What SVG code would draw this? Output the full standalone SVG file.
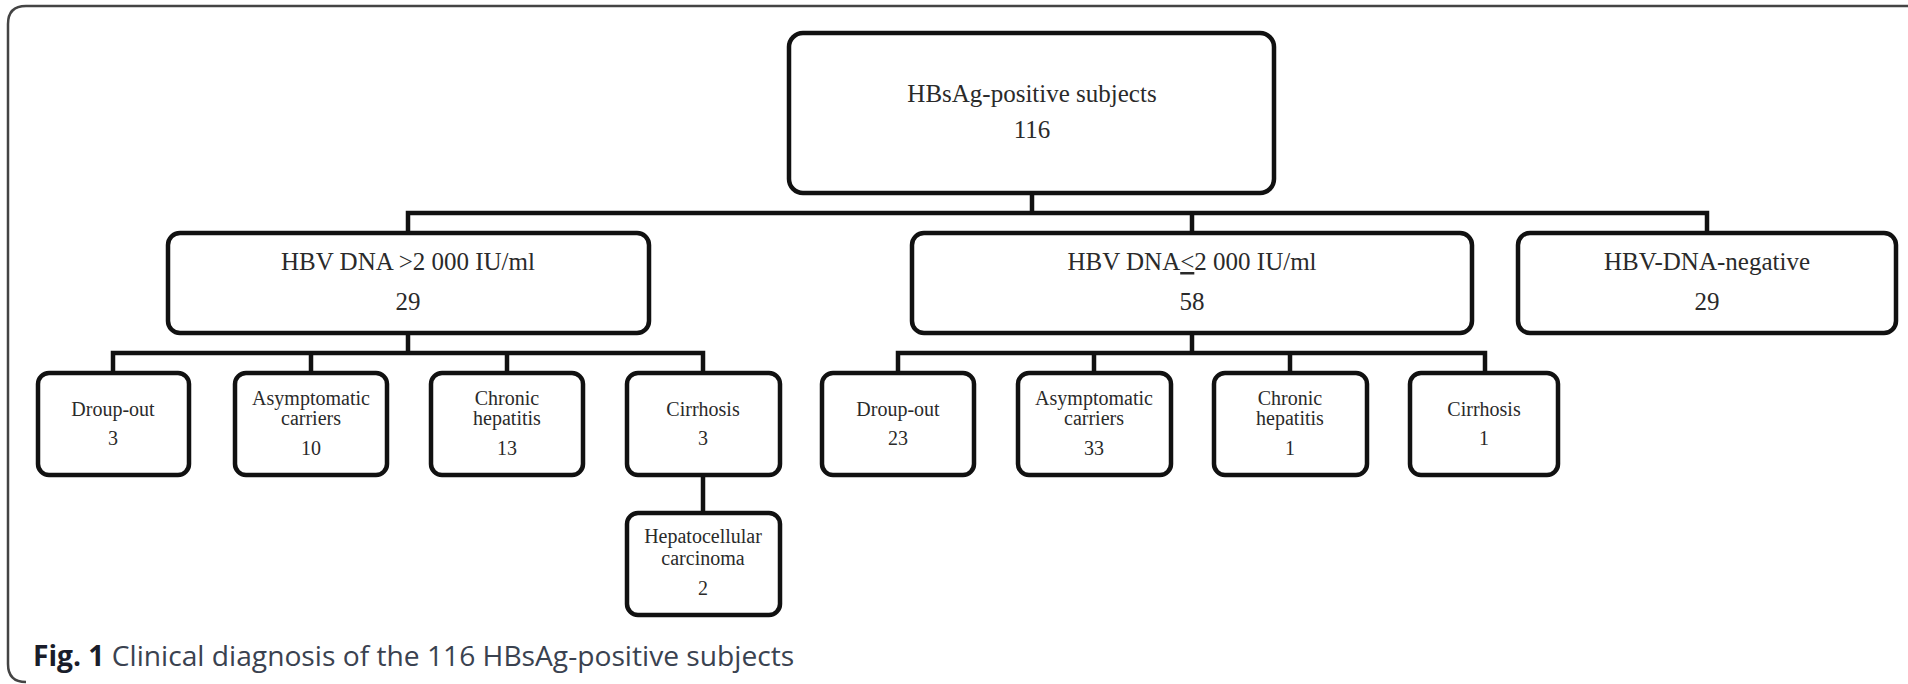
<svg xmlns="http://www.w3.org/2000/svg" width="1908" height="684" viewBox="0 0 1908 684">
<style>
.box{fill:#fff;stroke:#111;stroke-width:4.5}
.ln{fill:none;stroke:#111;stroke-width:4.5}
.t1{font-family:"Liberation Serif",serif;font-size:25px;fill:#2a2a2a;text-anchor:middle}
.t3{font-family:"Liberation Serif",serif;font-size:20px;fill:#2a2a2a;text-anchor:middle}
.cap{font-family:"Open Sans","Liberation Sans",sans-serif;font-size:28.2px;fill:#3a4250}
</style>
<rect width="1908" height="684" fill="#fff"/>
<path d="M1910,6 H26 Q8,6 8,24 V664 Q8,682 26,682" fill="none" stroke="#444" stroke-width="2.5"/>
<g id="connectors">
<path class="ln" d="M1032,193 V213 M408,232 V213 H1707 V232 M1192,213 V232"/>
<path class="ln" d="M408,333 V353 M113,373 V353 H703 V373 M311,353 V373 M507,353 V373 M703,475 V513"/>
<path class="ln" d="M1192,333 V353 M898,373 V353 H1485 V373 M1094,353 V373 M1290,353 V373"/>
</g>
<g id="root"><rect class="box" x="789" y="33" width="485" height="160" rx="14"/>
<text class="t1" x="1032" y="102">HBsAg-positive subjects</text><text class="t1" x="1032" y="138">116</text></g>
<g id="high"><rect class="box" x="168" y="233" width="481" height="100" rx="12"/>
<text class="t1" x="408" y="270">HBV DNA &gt;2 000 IU/ml</text><text class="t1" x="408" y="310">29</text></g>
<g id="low"><rect class="box" x="912" y="233" width="560" height="100" rx="12"/>
<text class="t1" x="1192" y="270">HBV DNA<tspan text-decoration="underline">&lt;</tspan>2 000 IU/ml</text><text class="t1" x="1192" y="310">58</text></g>
<g id="neg"><rect class="box" x="1518" y="233" width="378" height="100" rx="12"/>
<text class="t1" x="1707" y="270">HBV-DNA-negative</text><text class="t1" x="1707" y="310">29</text></g>
<g id="h-drop"><rect class="box" x="38" y="373" width="151" height="102" rx="11"/>
<text class="t3" x="113" y="416">Droup-out</text><text class="t3" x="113" y="445">3</text></g>
<g id="h-asym"><rect class="box" x="235" y="373" width="152" height="102" rx="11"/>
<text class="t3" x="311" y="405">Asymptomatic</text><text class="t3" x="311" y="425">carriers</text><text class="t3" x="311" y="455">10</text></g>
<g id="h-chron"><rect class="box" x="431" y="373" width="152" height="102" rx="11"/>
<text class="t3" x="507" y="405">Chronic</text><text class="t3" x="507" y="425">hepatitis</text><text class="t3" x="507" y="455">13</text></g>
<g id="h-cirr"><rect class="box" x="627" y="373" width="153" height="102" rx="11"/>
<text class="t3" x="703" y="416">Cirrhosis</text><text class="t3" x="703" y="445">3</text></g>
<g id="h-hcc"><rect class="box" x="627" y="513" width="153" height="102" rx="11"/>
<text class="t3" x="703" y="543">Hepatocellular</text><text class="t3" x="703" y="565">carcinoma</text><text class="t3" x="703" y="595">2</text></g>
<g id="l-drop"><rect class="box" x="822" y="373" width="152" height="102" rx="11"/>
<text class="t3" x="898" y="416">Droup-out</text><text class="t3" x="898" y="445">23</text></g>
<g id="l-asym"><rect class="box" x="1018" y="373" width="153" height="102" rx="11"/>
<text class="t3" x="1094" y="405">Asymptomatic</text><text class="t3" x="1094" y="425">carriers</text><text class="t3" x="1094" y="455">33</text></g>
<g id="l-chron"><rect class="box" x="1214" y="373" width="153" height="102" rx="11"/>
<text class="t3" x="1290" y="405">Chronic</text><text class="t3" x="1290" y="425">hepatitis</text><text class="t3" x="1290" y="455">1</text></g>
<g id="l-cirr"><rect class="box" x="1410" y="373" width="148" height="102" rx="11"/>
<text class="t3" x="1484" y="416">Cirrhosis</text><text class="t3" x="1484" y="445">1</text></g>
<text class="cap" x="33" y="666"><tspan font-weight="bold" fill="#1a1d2a">Fig. 1</tspan> Clinical diagnosis of the 116 HBsAg-positive subjects</text>
</svg>
